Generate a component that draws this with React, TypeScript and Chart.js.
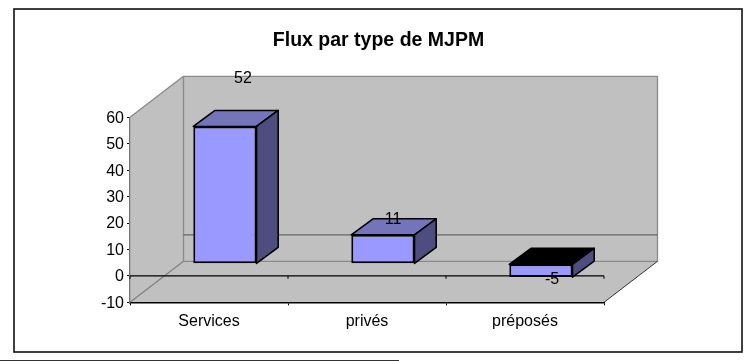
import React, { useEffect, useRef } from "react";
import { Chart, registerables } from "chart.js";

Chart.register(...registerables);

const TITLE = "Flux par type de MJPM";
const categories = ["Services", "privés", "préposés"];
const flux = [52, 11, -5];
const labelNudges = [
  [34, -60],
  [26, -27.5],
  [27, -9.5],
];

const FONT = "'Liberation Sans', Arial, sans-serif";
const DEPTH_X = 53.5;
const DEPTH_Y = 41;
const BAR_SHIFT_X = 15.9;
const BAR_SHIFT_Y = 12;
const BAR_DEPTH_X = 21.7;
const BAR_DEPTH_Y = 16;

function poly(ctx: CanvasRenderingContext2D, pts: number[][], fill: string | null, stroke: string | null, lw = 1) {
  ctx.beginPath();
  pts.forEach(([x, y], i) => (i ? ctx.lineTo(x, y) : ctx.moveTo(x, y)));
  if (fill) {
    ctx.closePath();
    ctx.fillStyle = fill;
    ctx.fill();
  }
  if (stroke) {
    ctx.strokeStyle = stroke;
    ctx.lineWidth = lw;
    ctx.lineJoin = "round";
    ctx.stroke();
  }
}

const scene3d = {
  id: "scene3d",
  afterLayout(chart: any) {
    chart.titleBlock.left = 178.5;
    chart.titleBlock.right = 578.5;
  },
  beforeDraw(chart: any) {
    const { ctx, chartArea: a, scales } = chart;
    const y0 = scales.y.getPixelForValue(0);
    ctx.save();
    ctx.fillStyle = "#fff";
    ctx.fillRect(0, 0, chart.width, chart.height);
    // page frame
    ctx.strokeStyle = "#111";
    ctx.lineWidth = 1.6;
    ctx.strokeRect(14, 9, 728, 343);
    poly(ctx, [[0, 360.5], [399, 360.5]], null, "#333", 1);
    // walls and floor
    const bl = a.left + DEPTH_X;
    const br = a.right + DEPTH_X;
    const bt = a.top - DEPTH_Y;
    const bb = a.bottom - DEPTH_Y;
    poly(ctx, [[a.left, a.top], [bl, bt], [bl, bb], [a.left, a.bottom]], "#C0C0C0", null);
    poly(ctx, [[bl, bt], [br, bt], [br, bb], [bl, bb]], "#C0C0C0", null);
    poly(ctx, [[a.left, a.bottom], [a.right, a.bottom], [br, bb], [bl, bb]], "#C0C0C0", null);
    poly(ctx, [[a.left, a.top], [bl, bt], [br, bt], [br, bb], [bl, bb], [bl, bt]], null, "#8a8a8a", 1.3);
    poly(ctx, [[a.left, a.bottom], [bl, bb]], null, "#808080", 1.3);
    poly(ctx, [[a.right, a.bottom], [br, bb]], null, "#333", 1);
    poly(ctx, [[bl, y0 - DEPTH_Y], [br, y0 - DEPTH_Y]], null, "#666", 1.2);
    ctx.restore();
  },
  beforeDatasetsDraw(chart: any) {
    const { ctx, chartArea: a, scales } = chart;
    const y0 = scales.y.getPixelForValue(0);
    ctx.save();
    poly(ctx, [[a.left, y0], [a.right, y0]], null, "#000", 1.4);
    const n = categories.length;
    for (let i = 0; i <= n; i++) {
      const x = a.left + (i * (a.right - a.left)) / n;
      poly(ctx, [[x, y0], [x, y0 + 3]], null, "#000", 1);
    }
    ctx.restore();
  },
  beforeDatasetDraw(chart: any, args: any) {
    const { ctx } = chart;
    ctx.save();
    ctx.translate(BAR_SHIFT_X, -BAR_SHIFT_Y);
    args.meta.data.forEach((bar: any, i: number) => {
      const l = bar.x - bar.width / 2;
      const r = bar.x + bar.width / 2;
      const top = Math.min(bar.y, bar.base);
      const bottom = Math.max(bar.y, bar.base);
      const topFill = flux[i] < 0 ? "#000" : "#7474BA";
      poly(ctx, [[l, top], [l + BAR_DEPTH_X, top - BAR_DEPTH_Y], [r + BAR_DEPTH_X, top - BAR_DEPTH_Y], [r, top]], topFill, "#000", 1.6);
      poly(ctx, [[r, top], [r + BAR_DEPTH_X, top - BAR_DEPTH_Y], [r + BAR_DEPTH_X, bottom - BAR_DEPTH_Y], [r, bottom]], "#4D4D80", "#000", 1.6);
    });
  },
  afterDatasetDraw(chart: any) {
    chart.ctx.restore();
  },
  afterDatasetsDraw(chart: any) {
    const { ctx } = chart;
    const meta = chart.getDatasetMeta(0);
    ctx.save();
    ctx.font = `16px ${FONT}`;
    ctx.fillStyle = "#000";
    ctx.textAlign = "center";
    ctx.textBaseline = "middle";
    meta.data.forEach((bar: any, i: number) => {
      ctx.fillText(String(flux[i]), bar.x + labelNudges[i][0], bar.y + labelNudges[i][1]);
    });
    ctx.restore();
  },
};

export default function App() {
  const ref = useRef<HTMLCanvasElement | null>(null);
  useEffect(() => {
    const chart = new Chart(ref.current as HTMLCanvasElement, {
      type: "bar",
      data: {
        labels: categories,
        datasets: [
          {
            label: "Flux",
            data: flux,
            backgroundColor: "#9999FF",
            borderColor: "#000",
            borderWidth: 2,
            borderSkipped: false,
            barPercentage: 0.4,
            categoryPercentage: 1,
            clip: false,
          } as any,
        ],
      },
      options: {
        responsive: false,
        animation: false,
        layout: { padding: { left: 0, right: 143, top: 0, bottom: 0 } },
        plugins: {
          legend: { display: false },
          tooltip: { enabled: false },
          title: {
            display: true,
            text: TITLE,
            color: "#000",
            font: { family: FONT, size: 19.5, weight: "bold", lineHeight: 1.2 },
            padding: { top: 29, bottom: 64.9 },
          },
        },
        scales: {
          x: {
            afterFit(s: any) {
              s.height = 58.7;
            },
            grid: { offset: true, drawOnChartArea: false, drawTicks: true, tickLength: 3, color: "#000" },
            border: { color: "#000", width: 1.4 },
            ticks: { color: "#000", font: { family: FONT, size: 16 }, padding: 7, maxRotation: 0 },
          },
          y: {
            min: -10,
            max: 60,
            afterFit(s: any) {
              s.width = 130;
            },
            grid: { drawOnChartArea: false, drawTicks: true, tickLength: 3, color: "#000" },
            border: { color: "#777", width: 1.3 },
            ticks: { stepSize: 10, color: "#000", font: { family: FONT, size: 16 }, padding: 3, labelOffset: 1 },
          },
        },
      },
      plugins: [scene3d],
    } as any);
    return () => chart.destroy();
  }, []);
  return (
    <canvas
      ref={ref}
      width={747}
      height={361}
      style={{ position: "fixed", left: 0, top: 0, display: "block", width: 747, height: 361 }}
    />
  );
}
